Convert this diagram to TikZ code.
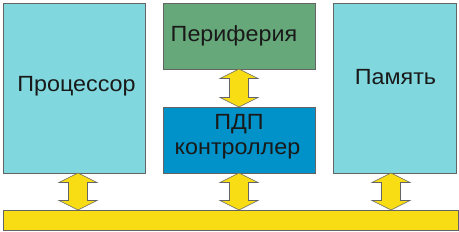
\documentclass[tikz,border=0pt]{standalone}
\usepackage{fontspec}
\setmainfont{Liberation Sans}[FakeStretch=1.06]
\usetikzlibrary{calc}
\definecolor{cpu}{RGB}{128,216,222}
\definecolor{per}{RGB}{102,168,122}
\definecolor{dma}{RGB}{0,146,200}
\definecolor{bus}{RGB}{248,220,20}
\definecolor{edge}{RGB}{100,100,100}
\definecolor{txt}{RGB}{25,25,25}
\tikzset{
  box/.style={draw=edge, line width=0.8pt, anchor=south west, inner sep=0pt, outer sep=0pt},
  lbl/.style={anchor=base, inner sep=0pt, text=txt, font=\fontsize{22}{24}\selectfont},
  dblarrow/.style={draw=edge, fill=bus, line width=0.6pt, line join=miter},
}
\newcommand\darr[3]{\draw[dblarrow] let \p1=(#2.south), \p2=(#3.north) in
  (#1pt,\y1) -- (#1pt+19pt,\y1-9.5pt) -- (#1pt+9.5pt,\y1-9.5pt) -- (#1pt+9.5pt,\y2+9.5pt)
  -- (#1pt+19pt,\y2+9.5pt) -- (#1pt,\y2) -- (#1pt-19pt,\y2+9.5pt) -- (#1pt-9.5pt,\y2+9.5pt)
  -- (#1pt-9.5pt,\y1-9.5pt) -- (#1pt-19pt,\y1-9.5pt) -- cycle;}
\begin{document}
\begin{tikzpicture}[x=1pt,y=1pt]
\useasboundingbox (0,0) rectangle (459,232);
\node[box, fill=cpu, minimum width=142pt, minimum height=170pt] (proc) at (3,59) {};
\node[box, fill=per, minimum width=152pt, minimum height=66pt] (per) at (163,163) {};
\node[box, fill=dma, minimum width=152pt, minimum height=66pt] (dma) at (163,59) {};
\node[box, fill=cpu, minimum width=123pt, minimum height=170pt] (mem) at (333,59) {};
\node[box, fill=bus, minimum width=455pt, minimum height=20pt] (bus) at (3,2) {};
\node[lbl] (tproc) at (76.5,140.7) {Процессор};
\node[lbl] (tper) at (234,190.3) {Периферия};
\node[lbl] (tdma1) at (239,102) {ПДП};
\node[lbl] (tdma2) at (237.5,77.7) {контроллер};
\node[lbl] (tmem) at (395.5,147) {Память};
\darr{78}{proc}{bus}
\darr{239}{per}{dma}
\darr{239}{dma}{bus}
\darr{391}{mem}{bus}
\end{tikzpicture}
\end{document}
